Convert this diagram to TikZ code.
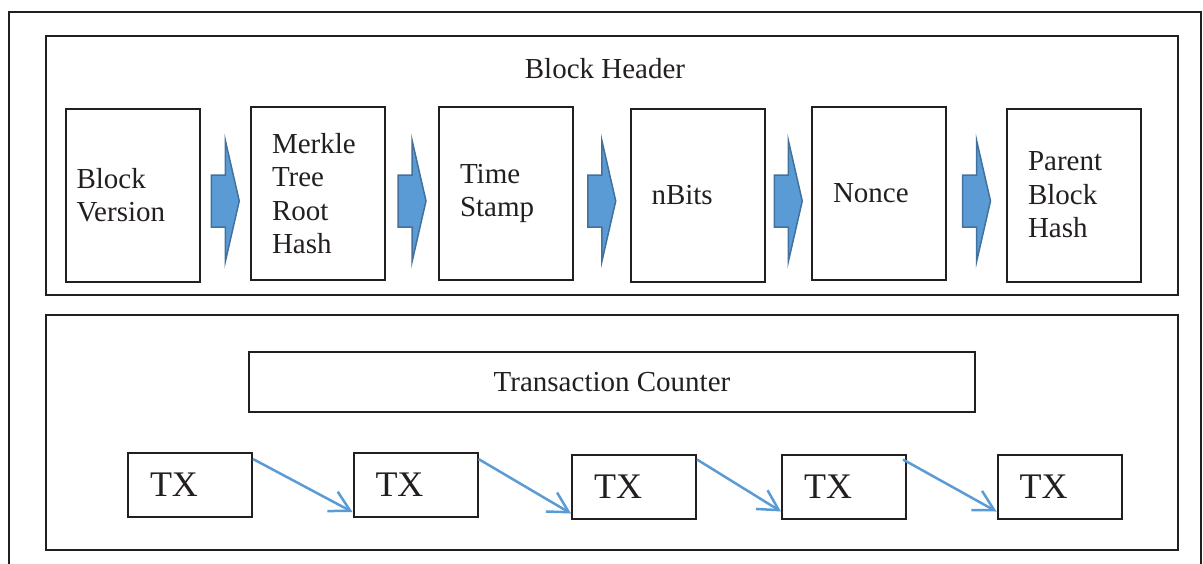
\documentclass[tikz,border=0pt]{standalone}
\usepackage{fontspec}
\setmainfont{Liberation Serif}
\usetikzlibrary{calc,arrows.meta}
\definecolor{ink}{HTML}{231F20}
\definecolor{bfill}{HTML}{5B9BD5}
\definecolor{bline}{HTML}{41719C}
\definecolor{tline}{HTML}{5B9BD5}
\newcommand{\hdrarrow}[2]{%
  \coordinate (mA) at ($(#1.east)!0.5!(#2.west)$);
  \coordinate (mB) at (mA |- yref);
  \draw[barrow] ($(mB)+(-14,-26)$) -- ($(mB)+(0,-26)$) -- ($(mB)+(0,-61)$)
    -- ($(mB)+(14,0)$) -- ($(mB)+(0,61)$) -- ($(mB)+(0,26)$)
    -- ($(mB)+(-14,26)$) -- cycle;}
\begin{document}
\begin{tikzpicture}[x=1pt,y=-1pt,
  frame/.style={draw=ink,line width=2.5pt},
  field/.style={draw=ink,line width=2pt,minimum width=134pt,minimum height=173pt,
    align=left,text width=92pt,inner xsep=21pt,inner ysep=0pt,
    font=\fontsize{29}{33.5}\selectfont,text=ink},
  txbox/.style={draw=ink,line width=2pt,minimum width=124pt,minimum height=64pt,
    align=left,text width=80pt,inner xsep=22pt,inner ysep=0pt,
    font=\fontsize{36}{40}\selectfont,text=ink},
  barrow/.style={fill=bfill,draw=bline,line width=1.5pt,line join=miter},
  txarrow/.style={draw=tline,line width=2.5pt,-{Straight Barb[length=20pt,width=22pt]}}]
\useasboundingbox (0,0) rectangle (1203,563);
% outer frame (open at the bottom)
\draw[frame] (9,575) -- (9,12) -- (1201,12) -- (1201,575);
% header and body frames
\node[frame,minimum width=1132pt,minimum height=259pt,inner sep=0pt] (hdr) at (612,165.5) {};
\node[frame,minimum width=1132pt,minimum height=235pt,inner sep=0pt] (body) at (612,432.5) {};
\node[anchor=base,font=\fontsize{29}{33.5}\selectfont,text=ink,inner sep=0pt] (hdrtitle) at (605,78) {Block Header};
% header fields
\node[field,text width=112pt,inner xsep=11pt,minimum width=134pt] (f1) at (132.5,195) {Block\\Version};
\node[field] (f2) at (318,193.5) {Merkle\\Tree\\Root\\Hash};
\node[field] (f3) at (506,193.5) {Time\\Stamp};
\node[field] (f4) at (697.5,195.5) {nBits};
\node[field] (f5) at (879,193.5) {Nonce};
\node[field] (f6) at (1074,195) {Parent\\Block\\Hash};
\coordinate (yref) at (0,201);
\hdrarrow{f1}{f2}
\hdrarrow{f2}{f3}
\hdrarrow{f3}{f4}
\hdrarrow{f4}{f5}
\hdrarrow{f5}{f6}
% transaction counter
\node[draw=ink,line width=2pt,minimum width=726pt,minimum height=60pt,inner sep=0pt,
  font=\fontsize{29}{33.5}\selectfont,text=ink] (cnt) at (612,382) {Transaction Counter};
% transactions
\node[txbox] (tx1) at (190,485) {TX};
\node[txbox] (tx2) at (415.5,485) {TX};
\node[txbox] (tx3) at (634,486.5) {TX};
\node[txbox] (tx4) at (844,486.5) {TX};
\node[txbox] (tx5) at (1059.5,486.5) {TX};
\draw[txarrow] ([yshift=-7pt]tx1.north east) -- ([yshift=6pt]tx2.south west);
\draw[txarrow] ([yshift=-7pt]tx2.north east) -- ([yshift=6pt]tx3.south west);
\draw[txarrow] ([yshift=-6pt]tx3.north east) -- ([yshift=8pt]tx4.south west);
\draw[txarrow] ([yshift=-6pt,xshift=-4pt]tx4.north east) -- ([yshift=8pt]tx5.south west);
\end{tikzpicture}
\end{document}
